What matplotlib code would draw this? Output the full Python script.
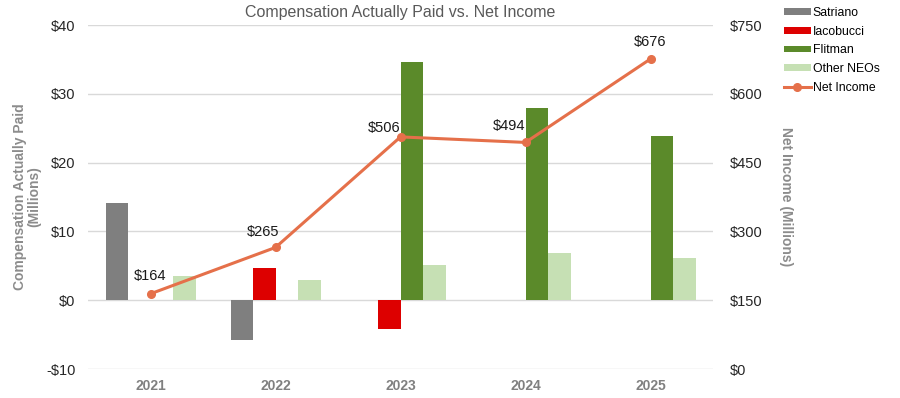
import matplotlib
matplotlib.use("Agg")
import matplotlib.pyplot as plt
import numpy as np

years = ["2021", "2022", "2023", "2024", "2025"]
satriano = [14.2, -5.8, np.nan, np.nan, np.nan]
iacobucci = [np.nan, 4.7, -4.2, np.nan, np.nan]
flitman = [np.nan, np.nan, 34.6, 28.0, 23.9]
other_neos = [3.5, 3.0, 5.1, 6.9, 6.2]
net_income = [164, 265, 506, 494, 676]
net_labels = ["$164", "$265", "$506", "$494", "$676"]

plt.rcParams['font.family'] = ['Liberation Sans', 'DejaVu Sans']

fig = plt.figure(figsize=(9, 3.98), dpi=100)
ax = fig.add_axes([88/900, 1-369/398, (713-88)/900, (369-25)/398])
ax2 = ax.twinx()

x = np.arange(len(years))
w = 0.18
series = [("Satriano", satriano, "#7F7F7F"),
          ("Iacobucci", iacobucci, "#DD0000"),
          ("Flitman", flitman, "#5B8A2A"),
          ("Other NEOs", other_neos, "#C6E0B4")]
handles = []
for i, (name, vals, col) in enumerate(series):
    b = ax.bar(x + (i - 1.5) * w, vals, width=w, color=col, label=name, zorder=2)
    handles.append(b)

ax.set_xlim(-0.5, 4.5)
ax.set_ylim(-10, 40)
ax.set_yticks([-10, 0, 10, 20, 30, 40])
ax.set_yticklabels(["-$10", "$0", "$10", "$20", "$30", "$40"])
ax.yaxis.grid(True, color="#D9D9D9", linewidth=1, zorder=0)
ax.set_axisbelow(True)
ax.set_xticks(x)
ax.set_xticklabels(years, fontweight="bold", color="#808080", fontsize=10)
ax.tick_params(axis="both", length=0)
ax.tick_params(axis="y", labelsize=10.5, labelcolor="#262626", pad=9)
ax.tick_params(axis="x", pad=7)
for s in ax.spines.values():
    s.set_visible(False)
for s in ax2.spines.values():
    s.set_visible(False)

ax.set_ylabel("Compensation Actually Paid\n(Millions)", fontsize=10, fontweight="bold",
              color="#8C8C8C", linespacing=1.0, va="center")
ax.yaxis.set_label_coords((27-88)/625, 0.5)

line, = ax2.plot(x, net_income, color="#E5704A", linewidth=2.2, marker="o",
                 markersize=5.5, label="Net Income", zorder=3)
ax2.set_ylim(0, 750)
ax2.set_yticks([0, 150, 300, 450, 600, 750])
ax2.set_yticklabels(["$0", "$150", "$300", "$450", "$600", "$750"])
ax2.tick_params(axis="y", length=0, labelsize=10.5, labelcolor="#262626", pad=12)
ax2.set_ylabel("Net Income (Millions)", fontsize=10, fontweight="bold",
               color="#8C8C8C", rotation=270, va="center")
ax2.yaxis.set_label_coords((786-88)/625, 0.5)

offsets = [(0, 13), (-9, 11), (-12, 6.5), (-11.5, 12), (0, 12)]
for xi, yi, lab, (dx, dy) in zip(x, net_income, net_labels, offsets):
    ax2.annotate(lab, (xi, yi), xytext=(dx, dy), textcoords="offset points",
                 ha="center", va="center", fontsize=10.5, color="#1A1A1A")

fig.text(400/900, 1-13/398, "Compensation Actually Paid vs. Net Income",
         ha="center", va="center", fontsize=11.5, color="#595959")

fig.legend(handles + [line], ["Satriano", "Iacobucci", "Flitman", "Other NEOs", "Net Income"],
           loc="upper left", bbox_to_anchor=(779/900, 1-2/398), frameon=False,
           fontsize=8.8, handlelength=2.2, handleheight=0.45, handletextpad=0.15,
           labelspacing=0.55, borderaxespad=0)

fig.savefig("out.png", dpi=100)
